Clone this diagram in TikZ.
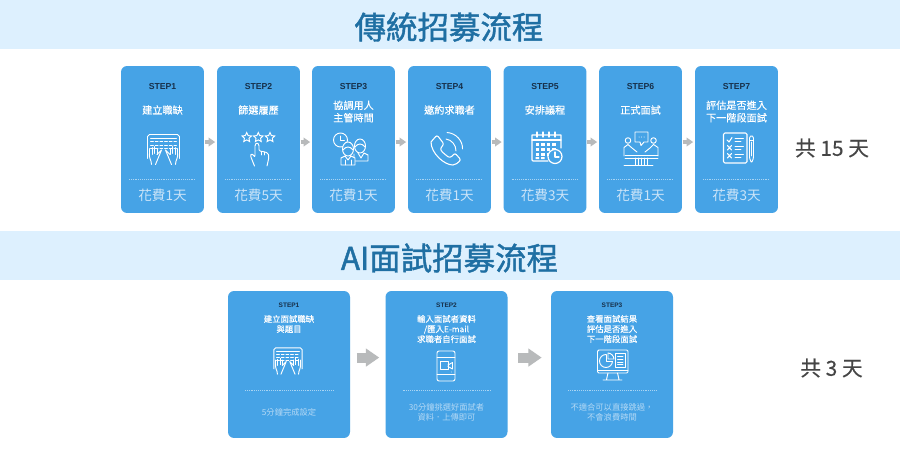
\documentclass[tikz,border=0pt]{standalone}
\usepackage{fontspec}
\setmainfont{Noto Sans CJK TC}
\newfontfamily\stepfont{Liberation Sans}
\newfontfamily\headfont[FakeBold=1.3]{Noto Sans CJK TC}
\newfontfamily\semifont[FakeBold=0.2]{Noto Sans CJK TC}
\usetikzlibrary{arrows.meta,shapes.geometric}
\definecolor{band}{HTML}{DDF0FE}
\definecolor{cardblue}{HTML}{46A3E6}
\definecolor{titleblue}{HTML}{1F6FA3}
\definecolor{stepink}{HTML}{17304A}
\definecolor{costink}{HTML}{CBE4F8}
\definecolor{noteink}{HTML}{B4D9F5}
\definecolor{arrowgray}{HTML}{B8BABB}
\definecolor{totalink}{HTML}{454545}
\definecolor{dotline}{HTML}{A9D4F3}
\tikzset{
  px/.style={x=0.75pt,y=-0.75pt},
  bandbox/.style={fill=band,draw=none},
  heading/.style={font=\headfont\fontsize{23.6pt}{26pt}\selectfont,text=titleblue,inner sep=0},
  cardbig/.style={fill=cardblue,draw=none,rounded corners=4.5pt,minimum width=62.2pt,minimum height=110.2pt,inner sep=0},
  cardwide/.style={fill=cardblue,draw=none,rounded corners=4.5pt,minimum width=91.5pt,minimum height=110.2pt,inner sep=0},
  steplabel/.style={font=\stepfont\fontsize{6.5pt}{7pt}\selectfont\bfseries,text=stepink,inner sep=0},
  steplabelsmall/.style={font=\stepfont\fontsize{4.9pt}{5pt}\selectfont\bfseries,text=stepink,inner sep=0},
  cardtitle/.style={font=\semifont\fontsize{7.6pt}{9.4pt}\selectfont,text=white,align=center,inner sep=0},
  cardtitlesmall/.style={font=\semifont\fontsize{6.3pt}{7.6pt}\selectfont,text=white,align=center,inner sep=0},
  costlabel/.style={font=\fontsize{10.2pt}{12pt}\selectfont,text=costink,inner sep=0},
  notelabel/.style={font=\fontsize{6.2pt}{7.8pt}\selectfont,text=noteink,align=center,inner sep=0},
  totallabel/.style={font=\semifont\fontsize{15.6pt}{18pt}\selectfont,text=totalink,inner sep=0},
  sep/.style={draw=dotline,line width=0.4pt,densely dotted},
  flowsmall/.style={draw=arrowgray,line width=2.6pt,-{Triangle[length=5pt,width=6.5pt]}},
  flowbig/.style={draw=arrowgray,line width=7.5pt,-{Triangle[length=10pt,width=13pt]}},
  ico/.style={draw=white,line width=0.7pt,line cap=round,line join=round},
  icofill/.style={fill=white,draw=none},
}
% name, centre x, title y, title, cost
\newcommand{\bigcard}[6]{%
  \node[cardbig] (#1) at (#2,139.5) {};
  \node[steplabel] (#1s) at (#2,87) {#3};
  \node[cardtitle] (#1t) at (#2,#4) {#5};
  \coordinate (#1l) at (#2-33.5,179);
  \coordinate (#1r) at (#2+33.5,179);
  \draw[sep] (#1l) -- (#1r);
  \node[costlabel] (#1c) at (#2,195) {#6};
}
% name, centre x, title y, title, note y, note
\newcommand{\widecard}[7]{%
  \node[cardwide] (#1) at (#2,364.5) {};
  \node[steplabelsmall] (#1s) at (#2,305) {#3};
  \node[cardtitlesmall] (#1t) at (#2,#4) {#5};
  \coordinate (#1l) at (#2-44,390);
  \coordinate (#1r) at (#2+44,390);
  \draw[sep] (#1l) -- (#1r);
  \node[notelabel] (#1n) at (#2,#6) {#7};
}
\newcommand{\keyboardicon}{%
  \draw[ico] (-16,9) -- (-16,-13) to[out=-90,in=180] (-14,-15) -- (14,-15) to[out=0,in=-90] (16,-13) -- (16,9);
  \draw[ico,line width=0.5pt] (-13,-11) -- (13,-11);
  \foreach \yy in {-8,-4.5,-1}{\draw[ico,line width=0.5pt,dash pattern=on 2.2 off 1.3] (-13,\yy) -- (13,\yy);}
  \draw[ico] (-14,3) -- (-14,-1) (-11.5,5) -- (-11.5,-2) (-9,4) -- (-9,-3) (-6.5,5) -- (-6.5,-1);
  \draw[ico] (14,3) -- (14,-1) (11.5,5) -- (11.5,-2) (9,4) -- (9,-3) (6.5,5) -- (6.5,-1);
  \draw[ico] (-14,3) .. controls (-15,9) and (-12,10) .. (-12,15) (-6.5,5) -- (-2,0.5) (-2,0.5) -- (-3,3) -- (-8,15);
  \draw[ico] (14,3) .. controls (15,9) and (12,10) .. (12,15) (6.5,5) -- (2,0.5) (2,0.5) -- (3,3) -- (8,15);
}
\begin{document}
\begin{tikzpicture}[px]
\useasboundingbox (0,0) rectangle (900,450);
\fill[white] (0,0) rectangle (900,450);
\fill[bandbox] (0,0) rectangle (900,49);
\fill[bandbox] (0,231) rectangle (900,280);
\node[heading] (h1) at (449,27) {傳統招募流程};
\node[heading] (h2) at (449.5,258) {AI面試招募流程};

\bigcard{a1}{162.5}{STEP1}{110}{建立職缺}{花費1天}
\bigcard{a2}{258.5}{STEP2}{110}{篩選履歷}{花費5天}
\bigcard{a3}{353.5}{STEP3}{111.5}{協調用人\\主管時間}{花費1天}
\bigcard{a4}{449.5}{STEP4}{110}{邀約求職者}{花費1天}
\bigcard{a5}{545}{STEP5}{110}{安排議程}{花費3天}
\bigcard{a6}{640.5}{STEP6}{110}{正式面試}{花費1天}
\bigcard{a7}{736.5}{STEP7}{111.5}{評估是否進入\\下一階段面試}{花費3天}

\foreach \p/\q in {a1/a2,a2/a3,a3/a4,a4/a5,a5/a6,a6/a7}
  \draw[flowsmall,shorten <=0.3pt,shorten >=1.2pt] ([yshift=-1.9pt]\p.east) -- ([yshift=-1.9pt]\q.west);

\node[totallabel] (t1) at (832,148) {共 15 天};

\widecard{b1}{289}{STEP1}{324}{建立面試職缺\\與題目}{412}{5分鐘完成設定}
\widecard{b2}{446.5}{STEP2}{329}{輸入面試者資料\\/匯入E-mail\\求職者自行面試}{412.5}{30分鐘挑選好面試者\\資料．上傳即可}
\widecard{b3}{612}{STEP3}{329}{查看面試結果\\評估是否進入\\下一階段面試}{412.5}{不適合可以直接跳過，\\不會浪費時間}

\draw[flowbig,shorten <=5pt,shorten >=4.5pt] ([yshift=5.2pt]b1.east) -- ([yshift=5.2pt]b2.west);
\draw[flowbig,shorten <=8pt,shorten >=6.8pt] ([yshift=5.2pt]b2.east) -- ([yshift=5.2pt]b3.west);

\node[totallabel] (t2) at (831.5,368) {共 3 天};

% keyboard icons
\begin{scope}[shift={(163.5,149.5)}]\keyboardicon\end{scope}
\begin{scope}[shift={(288,361)},x=0.66pt,y=-0.66pt]\keyboardicon\end{scope}

% stars and hand
\foreach \sx in {246.7,258.3,270}
  \node[star,star points=5,star point ratio=2.1,draw=white,line width=0.7pt,inner sep=0,minimum size=7.5pt] (s\sx) at (\sx,137.5) {};
\draw[ico,rounded corners=1pt] (254.5,166) -- (250.5,156) -- (251,153.5) -- (254,155.5) -- (255,157) -- (255,144.5) -- (257,142.5) -- (259,144.5) -- (259,151) -- (263,151.5) -- (268,153) -- (269,157) -- (267,166);
\draw[ico] (261,151.5) -- (261,155) (264.5,152) -- (264.5,155);

% people and clock
\draw[ico] (340.5,140) circle[radius=7];
\draw[ico] (340.5,136) -- (340.5,140.5) -- (344.5,140.5);
\draw[ico,fill=cardblue] (360,146) ellipse[x radius=5.5,y radius=7];
\draw[ico] (355,147) .. controls (358,143) and (362,143) .. (365,147);
\draw[ico] (354,154) -- (354,161) -- (368,161) -- (368,155) -- (364,153) (358,153) -- (361,158) -- (364,153);
\draw[ico,fill=cardblue] (348,149) ellipse[x radius=5.5,y radius=7];
\draw[ico] (343,150) .. controls (346,146) and (350,146) .. (353,150);
\draw[ico,fill=cardblue] (341,165) -- (341,158) -- (345,156) -- (348,160) -- (351,156) -- (355,158) -- (355,165) -- cycle;
\draw[ico] (345,160) -- (345,165) (351,160) -- (351,165);

% phone
\draw[ico,rounded corners=1.6pt,line width=0.8pt] (431,142) -- (437,135) -- (444,144) -- (440,149) .. controls (443,153) and (447,156) .. (450,158) -- (455,153) -- (461,160) -- (455,165) .. controls (444,165) and (431,153) .. (431,142);
\draw[ico,line width=0.7pt] (446,139) .. controls (452,140) and (456,145) .. (456,151);
\draw[ico,line width=0.7pt] (447,132.5) .. controls (456,133) and (463,141) .. (462.5,149);

% calendar
\draw[ico,line width=0.9pt] (548,161) -- (533,161) -- (532,160) -- (532,135) -- (561,135) -- (561,148);
\draw[ico,line width=0.9pt] (532,140) -- (561,140);
\foreach \rx in {537,543,549,555}{\draw[ico,line width=0.9pt] (\rx,132) -- (\rx,137);}
\foreach \gx in {535.5,541,546.5,552}{\foreach \gy in {143,148,153}{\fill[icofill] (\gx,\gy) rectangle (\gx+3.6,\gy+3);}}
\fill[icofill] (535.5,157) rectangle (539,159) (541,157) rectangle (544.6,159);
\draw[ico,fill=cardblue,line width=0.9pt] (555,156.5) circle[radius=7];
\draw[ico,line width=0.9pt] (555,152) -- (555,157) -- (559,157);

% interview
\draw[ico] (635,132) -- (648,132) -- (648,142) -- (644,142) -- (641,145.5) -- (640,142) -- (635,142) -- cycle;
\foreach \dx in {639,641.5,644}{\fill[icofill] (\dx,137) circle[radius=0.5];}
\draw[ico] (628,140.5) circle[radius=2.8] (653.5,140.5) circle[radius=2.8];
\draw[ico] (624,156) -- (624,147.5) -- (628,144.5) -- (632,148) -- (637,152) (658,156) -- (658,147.5) -- (653.5,144.5) -- (650,148) -- (645,152);
\draw[ico] (625,155) -- (658,155) (625,158) -- (658,158) (624,165) -- (653,165);
\foreach \lx in {635,638,641,644,647}{\draw[ico,line width=0.5pt] (\lx,158) -- (\lx,165);}

% checklist
\draw[ico,rounded corners=1pt,line width=0.8pt] (723.5,133) rectangle (747,163);
\foreach \cy in {140,148,156}{\draw[ico] (735,\cy-1.5) -- (743.5,\cy-1.5) (735,\cy+1.5) -- (741,\cy+1.5);}
\draw[ico,line width=0.8pt] (727,140) -- (729,142) -- (732,137.5);
\draw[ico,line width=0.8pt] (727.5,145.5) -- (731.5,150) (731.5,145.5) -- (727.5,150);
\draw[ico,line width=0.8pt] (727.5,153.5) -- (731.5,158) (731.5,153.5) -- (727.5,158);
\draw[ico,rounded corners=0.8pt] (749.5,158) -- (749.5,137) -- (751.5,135.5) -- (753.5,137) -- (753.5,158) -- (751.5,163) -- cycle;
\draw[ico] (749.5,140) -- (753.5,140) (751.5,142) -- (751.5,156);

% mobile video
\draw[ico,rounded corners=1.5pt,line width=0.7pt] (437,351) rectangle (455,381);
\draw[ico] (437,357.5) -- (455,357.5) (437,374.5) -- (455,374.5);
\draw[ico,line width=0.7pt] (440.5,361.5) rectangle (448,369.5);
\draw[ico,line width=0.7pt] (448,365) -- (452.5,362.5) -- (452.5,369) -- (448,366.5);
\fill[icofill] (451.5,372) circle[radius=0.4];

% monitor with report
\draw[ico,rounded corners=1pt,line width=0.7pt] (597.5,350) rectangle (628,373);
\draw[ico] (597.5,370) -- (628,370);
\draw[ico] (608,373) -- (606.5,379.5) (617.5,373) -- (619,379.5) (603,380) -- (622,380);
\draw[ico,line width=0.7pt] (606,361) circle[radius=6.5];
\fill[cardblue] (606,354) rectangle (613,361);
\draw[ico,line width=0.7pt] (606,354.5) -- (606,361) -- (612.5,361);
\draw[ico,line width=0.7pt] (608,353) .. controls (611,353) and (614,356) .. (614,359) -- (608,359) -- cycle;
\draw[ico,line width=0.7pt] (615.5,353) rectangle (625,367);
\foreach \ly in {356,359,362,364.5}{\draw[ico,line width=0.4pt] (617.5,\ly) -- (623,\ly);}
\end{tikzpicture}
\end{document}
